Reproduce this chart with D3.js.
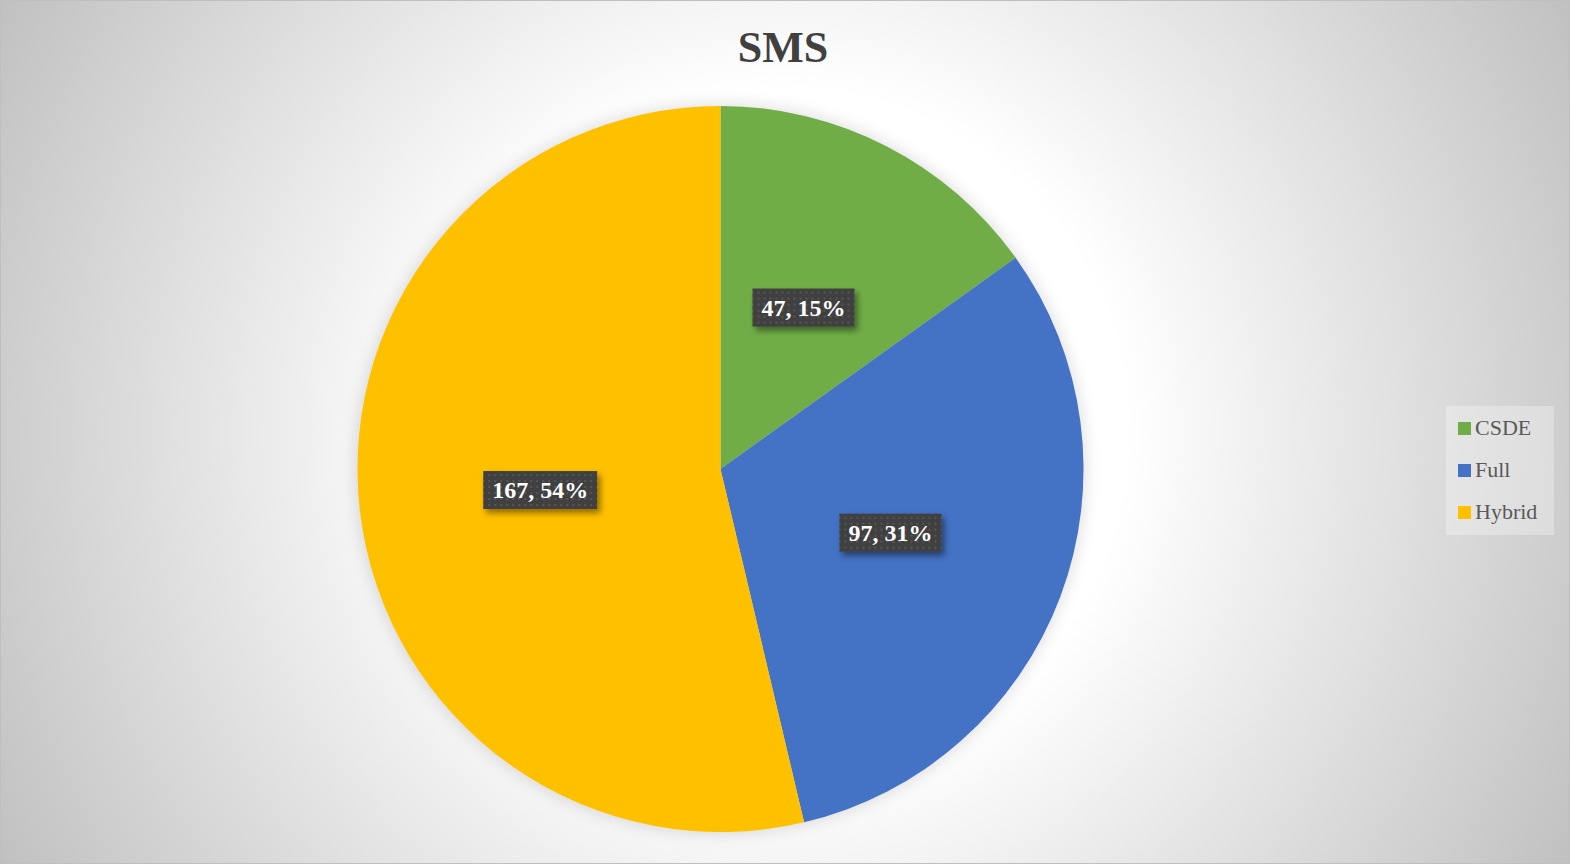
<!DOCTYPE html>
<html>
<head>
<meta charset="utf-8">
<script src="https://cdn.jsdelivr.net/npm/d3@7"></script>
<style>
  html, body { margin: 0; padding: 0; background: #fff; }
  svg { display: block; }
</style>
</head>
<body>
<div id="chart"></div>
<script>
const categories = ['CSDE', 'Full', 'Hybrid'];
const counts = [47, 97, 167];
const percents = ['15%', '31%', '54%'];
const colors = ['#70AD47', '#4472C4', '#FFC000'];
const title = 'SMS';

const width = 1571;
const height = 865;
const cx = 720.5, cy = 469, radius = 363;
const serif = "'Liberation Serif', 'DejaVu Serif', serif";

const svg = d3.select('#chart').append('svg')
  .attr('width', width)
  .attr('height', height);

const defs = svg.append('defs');

const bg = defs.append('radialGradient')
  .attr('id', 'bg')
  .attr('gradientUnits', 'userSpaceOnUse')
  .attr('cx', 785).attr('cy', 432).attr('r', 900);
bg.append('stop').attr('offset', 0).attr('stop-color', '#ffffff');
bg.append('stop').attr('offset', 0.38).attr('stop-color', '#ffffff');
bg.append('stop').attr('offset', 1).attr('stop-color', '#c0c0c0');

const dots = defs.append('pattern')
  .attr('id', 'dots')
  .attr('patternUnits', 'userSpaceOnUse')
  .attr('width', 6).attr('height', 6);
dots.append('rect').attr('width', 6).attr('height', 6).attr('fill', '#404040');
dots.append('rect').attr('x', 2).attr('y', 2).attr('width', 2).attr('height', 2).attr('fill', '#565656');

const shadow = defs.append('filter')
  .attr('id', 'shadow')
  .attr('x', '-20%').attr('y', '-30%').attr('width', '150%').attr('height', '180%');
shadow.append('feDropShadow')
  .attr('dx', 3).attr('dy', 4).attr('stdDeviation', 3)
  .attr('flood-color', '#000').attr('flood-opacity', 0.45);

const glow = defs.append('filter')
  .attr('id', 'glow')
  .attr('x', '-20%').attr('y', '-20%').attr('width', '140%').attr('height', '140%');
glow.append('feGaussianBlur').attr('stdDeviation', 8);

// background + border
svg.append('rect')
  .attr('x', 0.5).attr('y', 0.5)
  .attr('width', width - 2).attr('height', height - 2)
  .attr('fill', 'url(#bg)')
  .attr('stroke', '#bfbfbf')
  .attr('stroke-width', 1);

svg.append('text')
  .attr('x', 783)
  .attr('y', 62)
  .attr('text-anchor', 'middle')
  .style('font-family', serif)
  .style('font-weight', 'bold')
  .style('font-size', '44px')
  .style('fill', '#404040')
  .text(title);

const data = categories.map((c, i) => ({ name: c, value: counts[i], pct: percents[i], color: colors[i] }));

const pie = d3.pie().sort(null).value(d => d.value);
const arc = d3.arc().innerRadius(0).outerRadius(radius);
const labelArc = d3.arc().innerRadius(radius * 0.5).outerRadius(radius * 0.5);

const g = svg.append('g').attr('transform', `translate(${cx},${cy})`);

g.append('circle')
  .attr('r', radius + 2)
  .attr('fill', '#000')
  .attr('opacity', 0.12)
  .attr('filter', 'url(#glow)');

const arcs = pie(data);

g.selectAll('path.slice')
  .data(arcs)
  .join('path')
  .attr('class', 'slice')
  .attr('d', arc)
  .attr('fill', d => d.data.color);

const labels = g.selectAll('g.label')
  .data(arcs)
  .join('g')
  .attr('class', 'label')
  .attr('transform', d => `translate(${labelArc.centroid(d)})`);

labels.each(function(d) {
  const lg = d3.select(this);
  const box = lg.append('rect')
    .attr('fill', 'url(#dots)')
    .attr('filter', 'url(#shadow)');
  const t = lg.append('text')
    .attr('text-anchor', 'middle')
    .attr('dy', '0.35em')
    .style('font-family', serif)
    .style('font-weight', 'bold')
    .style('font-size', '24px')
    .style('fill', '#ffffff')
    .text(`${d.data.value}, ${d.data.pct}`);
  const bb = t.node().getBBox();
  const padX = 9, h = 38;
  box.attr('x', bb.x - padX)
    .attr('y', -h / 2)
    .attr('width', bb.width + padX * 2)
    .attr('height', h);
});

// legend
const legend = svg.append('g').attr('transform', 'translate(1446,406)');
legend.append('rect')
  .attr('width', 108)
  .attr('height', 129)
  .attr('fill', '#ffffff')
  .attr('opacity', 0.3);

const rows = legend.selectAll('g.row')
  .data(data)
  .join('g')
  .attr('class', 'row')
  .attr('transform', (d, i) => `translate(0,${i * 42})`);

rows.append('rect')
  .attr('x', 12).attr('y', 16)
  .attr('width', 13).attr('height', 13)
  .attr('fill', d => d.color);

rows.append('text')
  .attr('x', 29)
  .attr('y', 29)
  .style('font-family', serif)
  .style('font-size', '22px')
  .style('fill', '#595959')
  .text(d => d.name);
</script>
</body>
</html>
